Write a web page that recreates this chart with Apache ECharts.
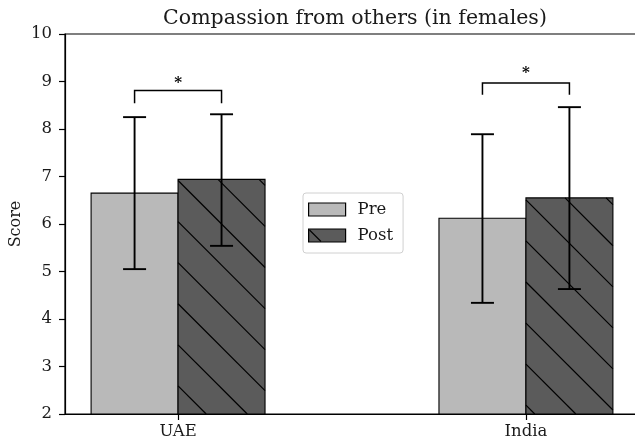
<!DOCTYPE html>
<html><head><meta charset="utf-8">
<script src="https://cdn.jsdelivr.net/npm/echarts@6/dist/echarts.min.js"></script>
<style>html,body{margin:0;padding:0;background:#fff}#c{width:635px;height:447px}</style>
</head><body><div id="c"></div>
<script>
// ---- data ----
const categories = ['UAE', 'India'];
const preMean  = [6.65, 6.12];
const postMean = [6.94, 6.55];
const preLow   = [5.05, 4.34];
const preHigh  = [8.25, 7.89];
const postLow  = [5.54, 4.63];
const postHigh = [8.31, 8.46];
const bracketTop  = [8.81, 8.97];
const bracketFoot = [8.54, 8.72];
const starY = [9.03, 9.23];
const sigLabels = ['*', '*'];
const yTicks = [2, 3, 4, 5, 6, 7, 8, 9, 10];

// ---- styling ----
const BAR_W = 0.25;
const PRE_COLOR = '#b9b9b9';
const POST_COLOR = '#5b5b5b';
const FONT = 'DejaVu Serif';
const TXT = '#1a1a1a';
const Y_MIN = yTicks[0], Y_MAX = yTicks[yTicks.length - 1];

function barRender(offset, fill, hatch) {
  return function (params, api) {
    const i = api.value(0), v = api.value(1);
    const p0 = api.coord([i + offset - BAR_W / 2, v]);
    const p1 = api.coord([i + offset + BAR_W / 2, Y_MIN]);
    const x0 = p0[0], y0 = p0[1], x1 = p1[0], y1 = p1[1];
    const children = [{
      type: 'rect', shape: { x: x0, y: y0, width: x1 - x0, height: y1 - y0 },
      style: { fill: fill, stroke: null }
    }];
    if (hatch) {
      const s = 41.07, phase = 84.6;
      const kMin = Math.floor((y0 - x1 - phase) / s) - 1;
      const kMax = Math.ceil((y1 - x0 - phase) / s) + 1;
      for (let k = kMin; k <= kMax; k++) {
        const c = phase + k * s;
        const xa = Math.max(x0, y0 - c), xb = Math.min(x1, y1 - c);
        if (xb > xa) {
          children.push({ type: 'line', shape: { x1: xa, y1: xa + c, x2: xb, y2: xb + c },
            style: { stroke: '#000', lineWidth: 1.2 } });
        }
      }
    }
    children.push({
      type: 'rect', shape: { x: x0, y: y0, width: x1 - x0, height: y1 - y0 },
      style: { fill: null, stroke: '#000', lineWidth: 1.1 }
    });
    return { type: 'group', children: children };
  };
}

function errRender(params, api) {
  const x = api.value(0), lo = api.value(1), hi = api.value(2);
  const a = api.coord([x, hi]), b = api.coord([x, lo]);
  const hw = 11.5, st = { stroke: '#000', lineWidth: 1.9 };
  return { type: 'group', children: [
    { type: 'line', shape: { x1: a[0], y1: a[1], x2: b[0], y2: b[1] }, style: st },
    { type: 'line', shape: { x1: a[0] - hw, y1: a[1], x2: a[0] + hw, y2: a[1] }, style: st },
    { type: 'line', shape: { x1: b[0] - hw, y1: b[1], x2: b[0] + hw, y2: b[1] }, style: st }
  ]};
}

function bracketRender(params, api) {
  const i = api.value(0), top = api.value(1), foot = api.value(2), sy = api.value(3);
  const l = api.coord([i - BAR_W / 2, top]), r = api.coord([i + BAR_W / 2, top]);
  const lf = api.coord([i - BAR_W / 2, foot]), rf = api.coord([i + BAR_W / 2, foot]);
  const sp = api.coord([i, sy]);
  return { type: 'group', children: [
    { type: 'polyline', shape: { points: [[lf[0], lf[1]], [l[0], l[1]], [r[0], r[1]], [rf[0], rf[1]]] },
      style: { stroke: '#000', lineWidth: 1.5, fill: null } },
    { type: 'text', x: sp[0], y: sp[1] + 3,
      style: { text: sigLabels[i], fontFamily: FONT, fontSize: 15, fontWeight: 'bold', fill: '#000', align: 'center', verticalAlign: 'middle' } }
  ]};
}

const preData = categories.map((c, i) => [i, preMean[i]]);
const postData = categories.map((c, i) => [i, postMean[i]]);
const errData = [];
categories.forEach((c, i) => {
  errData.push([i - BAR_W / 2, preLow[i], preHigh[i]]);
  errData.push([i + BAR_W / 2, postLow[i], postHigh[i]]);
});
const bracketData = categories.map((c, i) => [i, bracketTop[i], bracketFoot[i], starY[i]]);

const chart = echarts.init(document.getElementById('c'), null, { renderer: 'canvas' });
chart.setOption({
  animation: false,
  backgroundColor: '#fff',
  title: {
    text: 'Compassion from others (in females)',
    left: 350, top: 3, textAlign: 'center',
    textStyle: { fontFamily: FONT, fontSize: 20.5, fontWeight: 'normal', color: TXT }
  },
  legend: {
    orient: 'vertical', left: 303, top: 193,
    padding: [8, 10, 9, 5], itemGap: 9,
    itemWidth: 37, itemHeight: 13,
    backgroundColor: '#fff', borderColor: '#d0d0d0', borderWidth: 1, borderRadius: 3,
    textStyle: { fontFamily: FONT, fontSize: 16.5, color: TXT, padding: [0, 0, 0, 7] },
    data: [
      { name: 'Pre', icon: 'rect', itemStyle: { color: PRE_COLOR, borderColor: '#000', borderWidth: 1.2 } },
      { name: 'Post', icon: 'rect', itemStyle: { color: POST_COLOR, borderColor: '#000', borderWidth: 1.2 } }
    ]
  },
  graphic: [{
    type: 'line', z: 100, shape: { x1: 309.5, y1: 230, x2: 321, y2: 241.5 },
    style: { stroke: '#000', lineWidth: 1.1 }
  }],
  grid: { left: 65, top: 34, width: 574, height: 380, outerBoundsMode: 'none', containLabel: false,
    show: true, borderColor: '#000', borderWidth: 1.2, backgroundColor: 'transparent' },
  xAxis: {
    type: 'value', min: -0.325, max: 1.325,
    splitLine: { show: false },
    axisLine: { show: true, onZero: false, lineStyle: { color: '#000', width: 1.2 } },
    axisTick: { show: true, customValues: [0, 1], length: 6, lineStyle: { color: '#000', width: 1.2 } },
    axisLabel: { customValues: [0, 1], formatter: v => categories[Math.round(v)], fontFamily: FONT, fontSize: 16.5, color: TXT, margin: 9 }
  },
  yAxis: {
    type: 'value', min: Y_MIN, max: Y_MAX, interval: 1,
    splitLine: { show: false },
    axisLine: { show: true, onZero: false, lineStyle: { color: '#000', width: 1.2 } },
    axisTick: { show: true, length: 6, lineStyle: { color: '#000', width: 1.2 } },
    axisLabel: { fontFamily: FONT, fontSize: 16.5, color: TXT, margin: 13 },
    name: 'Score', nameLocation: 'middle', nameGap: 41, nameMoveOverlap: false,
    nameTextStyle: { fontFamily: FONT, fontSize: 16, color: TXT }
  },
  series: [
    { name: 'Pre', type: 'custom', renderItem: barRender(-BAR_W / 2, PRE_COLOR, false), data: preData,
      itemStyle: { color: PRE_COLOR, borderColor: '#000', borderWidth: 1.2 }, encode: { x: 0, y: 1 }, z: 2 },
    { name: 'Post', type: 'custom', renderItem: barRender(BAR_W / 2, POST_COLOR, true), data: postData,
      itemStyle: { color: POST_COLOR, borderColor: '#000', borderWidth: 1.2 }, encode: { x: 0, y: 1 }, z: 2 },
    { name: 'err', type: 'custom', renderItem: errRender, data: errData, encode: { x: 0, y: [1, 2] }, z: 3 },
    { name: 'sig', type: 'custom', renderItem: bracketRender, data: bracketData, encode: { x: 0, y: [1, 2, 3] }, z: 3 }
  ]
});
</script></body></html>
